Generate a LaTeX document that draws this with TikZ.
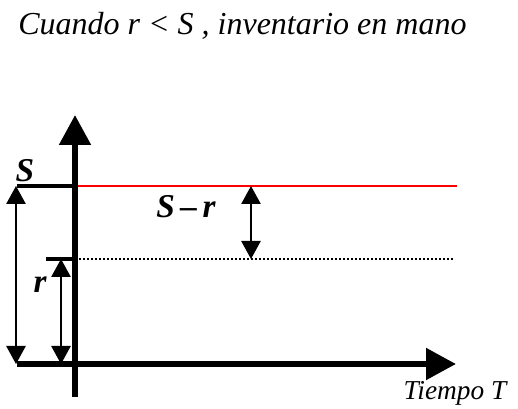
\documentclass[tikz,border=0pt]{standalone}
\usepackage{fontspec}
\setmainfont{Liberation Serif}
\usetikzlibrary{arrows.meta}
\begin{document}
\begin{tikzpicture}[x=0.75pt,y=-0.75pt,
  axis/.style={line width=4.5pt,-{Triangle[length=22.5pt,width=23pt]}},
  level/.style={line width=3pt},
  dbl/.style={line width=1.1pt,{Triangle[length=13.5pt,width=14.5pt]}-{Triangle[length=13.5pt,width=14.5pt]}},
  lbl/.style={inner sep=0pt,font=\fontsize{25}{29}\selectfont\bfseries\itshape},
  txt/.style={inner sep=0pt,font=\itshape}]
\useasboundingbox (0,0) rectangle (518,409);
% coordinates
\coordinate (vb) at (75,397);
\coordinate (vt) at (75,115);
\coordinate (hl) at (17,364);
\coordinate (hr) at (456,364);
\coordinate (sl) at (17,186);
\coordinate (s0) at (75,186);
\coordinate (sr) at (457,186);
\coordinate (rl) at (46,259);
\coordinate (r0) at (75,259);
\coordinate (rr) at (453,259);
\coordinate (a1t) at (16,186);
\coordinate (a1b) at (16,364);
\coordinate (a2t) at (61,259);
\coordinate (a2b) at (61,364);
\coordinate (a3t) at (251,186);
\coordinate (a3b) at (251,259);
% title and labels
\node[txt,font=\fontsize{24}{28}\selectfont\itshape,anchor=base west] (title) at (18,35) {Cuando r < S , inventario en mano};
\node[txt,font=\fontsize{20.5}{24}\selectfont\itshape,anchor=base] (tiempo) at (455,400) {Tiempo T};
\node[lbl] (Slab) at (25,171) {S};
\node[lbl] (rlab) at (40,285) {r};
\node[lbl] (Srlab) at (186,207) {S\,\textendash\,r};
% levels
\draw[red,line width=1.5pt] (s0) -- (sr);
\draw[line width=1.3pt,dash pattern=on 1.3pt off 1.7pt] (r0) -- (rr);
\draw[level] (sl) -- (s0);
\draw[level] (rl) -- (r0);
% axes
\draw[axis] (vb) -- (vt);
\draw[axis] (hl) -- (hr);
% double arrows
\draw[dbl] (a1t) -- (a1b);
\draw[dbl] (a2t) -- (a2b);
\draw[dbl] (a3t) -- (a3b);
\end{tikzpicture}
\end{document}
